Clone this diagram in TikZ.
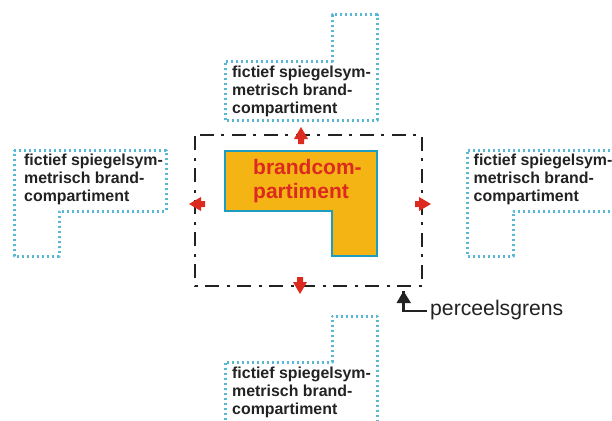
\documentclass[tikz,border=0pt]{standalone}
\usepackage{fontspec}
\setmainfont{Liberation Sans}
\definecolor{cy}{HTML}{58B8D4}
\definecolor{edge}{HTML}{1E9CC0}
\definecolor{org}{HTML}{F4B414}
\definecolor{rd}{HTML}{DC2A20}
\definecolor{ink}{HTML}{222222}
\tikzset{
  x=1pt,y=-1pt,
  ghost/.style={draw=cy,line width=3pt,dash pattern=on 2.3pt off 2.7pt,line join=round},
  ghosttext/.style={align=left,anchor=north west,inner sep=0pt,font=\bfseries\fontsize{15.9}{18}\selectfont,text=ink},
  plot/.style={draw=ink,line width=2.7pt,dash pattern=on 14pt off 7pt on 3pt off 8pt},
  red arrow/.style={fill=rd,draw=none},
}
\begin{document}
\begin{tikzpicture}
\useasboundingbox (0,0) rectangle (612,420);
\clip (0,0) rectangle (612,420);
% fictitious compartments
\draw[ghost] (225,120) -- (225,61) -- (332,61) -- (332,15) -- (377,15) -- (377,120) -- cycle;
\node[ghosttext] (top) at (232,65.5) {fictief spiegelsym-\\metrisch brand-\\compartiment};
\draw[ghost] (14,150) -- (166,150) -- (166,211) -- (59,211) -- (59,256) -- (14,256) -- cycle;
\node[ghosttext] (left) at (24,154) {fictief spiegelsym-\\metrisch brand-\\compartiment};
\draw[ghost] (620,150) -- (467,150) -- (467,256) -- (513,256) -- (513,211) -- (620,211);
\node[ghosttext] (right) at (473.5,154) {fictief spiegelsym-\\metrisch brand-\\compartiment};
\draw[ghost] (225,430) -- (225,362) -- (332,362) -- (332,316) -- (377,316) -- (377,430);
\node[ghosttext] (bottom) at (232,366.5) {fictief spiegelsym-\\metrisch brand-\\compartiment};
% boundary
\draw[plot] (200,135) -- (422,135) -- (422,286) -- (195,286) -- (195,135) -- (200,135);
% compartment
\draw[draw=edge,fill=org,line width=2.4pt] (225,151) -- (377,151) -- (377,256) -- (332,256) -- (332,211) -- (225,211) -- cycle;
\node[inner sep=0pt,anchor=north west,align=left,text=rd,font=\bfseries\fontsize{21}{24.5}\selectfont] (main) at (253,159) {brandcom-\\partiment};
% red arrows
\fill[red arrow] (301,127) -- (308,139) -- (304,139) -- (304,144) -- (298,144) -- (298,139) -- (294,139) -- cycle;
\fill[red arrow] (300,294) -- (307,282) -- (303,282) -- (303,277) -- (297,277) -- (297,282) -- (293,282) -- cycle;
\fill[red arrow] (189,204) -- (201,197) -- (201,201) -- (205,201) -- (205,207) -- (201,207) -- (201,211) -- cycle;
\fill[red arrow] (431,204) -- (419,197) -- (419,201) -- (415,201) -- (415,207) -- (419,207) -- (419,211) -- cycle;
% label with pointer
\node[inner sep=0pt,anchor=west,text=ink,font=\fontsize{21.2}{24}\selectfont] (lab) at (430,310) {perceelsgrens};
\coordinate (tip) at (403.5,291);
\draw[ink,line width=2.8pt] (lab.west) ++(-3,1) -| (tip);
\fill[ink] (tip) -- (411,303) -- (396.5,303) -- cycle;
\end{tikzpicture}
\end{document}
